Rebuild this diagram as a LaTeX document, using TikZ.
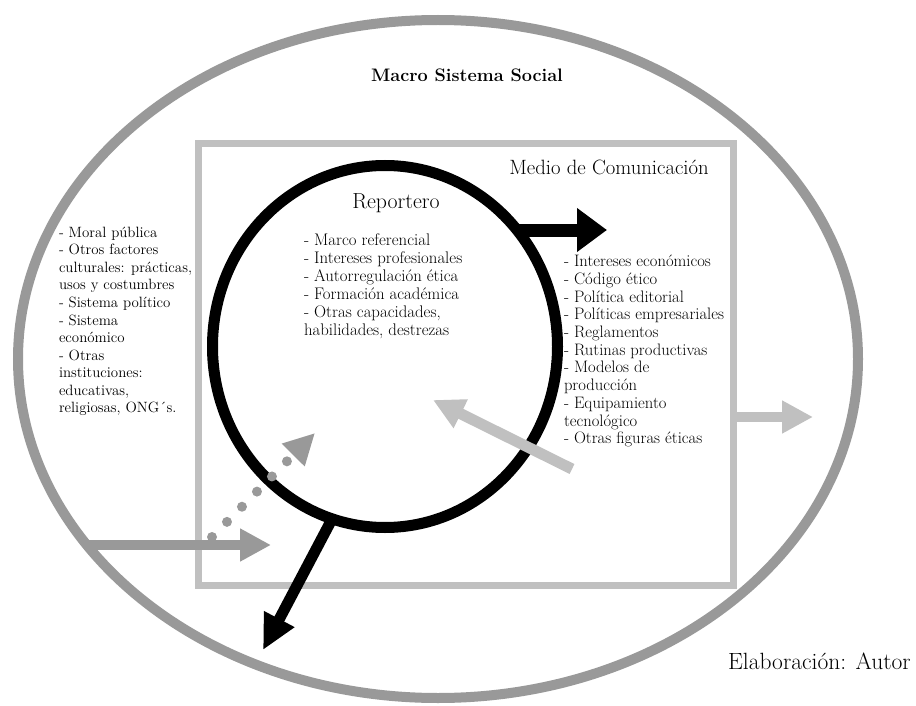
\documentclass[tikz,border=0pt]{standalone}
\usetikzlibrary{arrows.meta,shapes.geometric}
\definecolor{ringgray}{HTML}{999999}
\definecolor{boxgray}{HTML}{C0C0C0}
\begin{document}
\begin{tikzpicture}[x=1pt,y=-1pt,
  shape0/.style={inner sep=0pt,outer sep=0pt},
  lst/.style={anchor=base west,inner sep=0pt,outer sep=0pt},
  blackarrow/.style={draw=black,line width=#1},
  grayarrow/.style={draw=ringgray,line width=#1},
  lightarrow/.style={draw=boxgray,line width=#1},
  tip/.style 2 args={-{Triangle[length=#1,width=#2]}}
]
\useasboundingbox (0,0) rectangle (916,706);

% media box, social ring, reporter ring
\node[shape0,draw=boxgray,line width=7pt,minimum width=535pt,minimum height=442pt] (medio) at (466,364.5) {};
\node[shape0,ellipse,draw=ringgray,line width=10pt,minimum width=840pt,minimum height=678pt] (social) at (438,359) {};
\node[shape0,ellipse,draw=black,line width=11pt,minimum width=345pt,minimum height=362pt] (rep) at (385,346.5) {};

% headings
\node[anchor=base,font=\fontsize{18.1}{20}\selectfont\bfseries] (ttl) at (467,82) {Macro Sistema Social};
\node[anchor=base,font=\fontsize{20.7}{24}\selectfont] (mtl) at (609,175) {Medio de Comunicación};
\node[anchor=base,font=\fontsize{21.8}{26}\selectfont] (rtl) at (396,208) {Reportero};
\node[anchor=base west,font=\fontsize{23.5}{28}\selectfont,inner sep=0pt] (src) at (728,669) {Elaboración: Autor};

% lists
\node[lst,font=\fontsize{14.9}{17.6}\selectfont] (ctx) at (59,237) {\begin{tabular}[t]{@{}l@{}}
- Moral pública\\
- Otros factores\\
culturales: prácticas,\\
usos y costumbres\\
- Sistema político\\
- Sistema\\
económico\\
- Otras\\
instituciones:\\
educativas,\\
religiosas, ONG´s.
\end{tabular}};

\node[lst,font=\fontsize{16.8}{18}\selectfont] (rlist) at (304,245) {\begin{tabular}[t]{@{}l@{}}
- Marco referencial\\
- Intereses profesionales\\
- Autorregulación ética\\
- Formación académica\\
- Otras capacidades,\\
habilidades, destrezas
\end{tabular}};

\node[lst,font=\fontsize{16.6}{17.7}\selectfont] (mlist) at (564,266.7) {\begin{tabular}[t]{@{}l@{}}
- Intereses económicos\\
- Código ético\\
- Política editorial\\
- Políticas empresariales\\
- Reglamentos\\
- Rutinas productivas\\
- Modelos de\\
producción\\
- Equipamiento\\
tecnológico\\
- Otras figuras éticas
\end{tabular}};

% arrow end points
\coordinate (a1s) at (518,230);
\coordinate (a1e) at (607,230);
\coordinate (a2s) at (331,521);
\coordinate (a2e) at (263,650);
\coordinate (a3s) at (87,545);
\coordinate (a3e) at (271,545);
\coordinate (a4s) at (212,537);
\coordinate (a4e) at (315,433);
\coordinate (a5s) at (572,469);
\coordinate (a5e) at (433,400);
\coordinate (a6s) at (733.5,417);
\coordinate (a6e) at (813,417);

% arrows
\draw[blackarrow=13pt,tip={30pt}{42pt}] (a1s) -- (a1e);
\draw[blackarrow=11pt,tip={35pt}{32pt}] (a2s) -- (a2e);
\draw[grayarrow=10pt,tip={31pt}{31pt}] (a3s) -- (a3e);
\draw[grayarrow=10pt,line cap=round,dash pattern=on 0pt off 21.3pt,tip={31pt}{30pt}] (a4s) -- (a4e);
\draw[lightarrow=11pt,tip={31pt}{30pt}] (a5s) -- (a5e);
\draw[lightarrow=10pt,tip={31pt}{31pt}] (a6s) -- (a6e);
\end{tikzpicture}
\end{document}
